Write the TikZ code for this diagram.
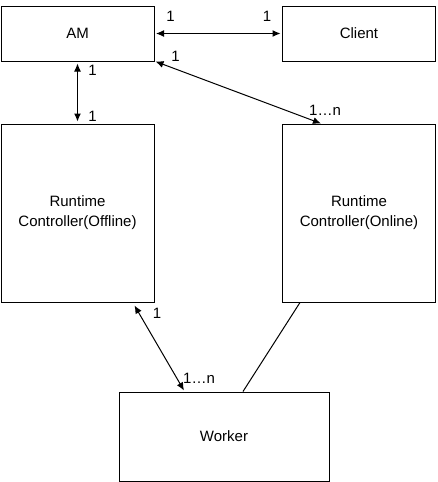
\documentclass[tikz,border=0pt]{standalone}
\usepackage{fontspec}
\setmainfont{Liberation Sans}
\usetikzlibrary{arrows.meta}
\tikzset{
    x=1pt, y=-1pt,
    every node/.style={font=\fontsize{15}{20}\selectfont},
    classbox/.style={draw, line width=1pt, align=center, inner sep=0pt},
    smallbox/.style={classbox, minimum width=153pt, minimum height=55pt},
    tallbox/.style={classbox, minimum width=153pt, minimum height=178pt},
    link/.style={line width=1pt, {Latex[length=8pt, width=7pt]}-{Latex[length=8pt, width=7pt]}},
}

\begin{document}
\begin{tikzpicture}
        \useasboundingbox (0, 0) rectangle (437, 482);
        \node[smallbox] (am) at (77.5, 33.5) {AM};
        \node[smallbox] (client) at (359, 33.5) {Client};
        \node[tallbox] (offline) at (77.5, 213) {Runtime\\Controller(Offline)};
        \node[tallbox] (online) at (359, 213) {Runtime\\Controller(Online)};
        \node[classbox, minimum width=210pt, minimum height=89pt] (worker)
            at (224, 436.5) {Worker};
        \draw[link] ([xshift=1.5pt]am.east) -- ([xshift=-1.5pt]client.west)
            node[pos=0, xshift=14.5pt, yshift=17.5pt] {1}
            node[pos=1, xshift=-13.5pt, yshift=17.5pt] {1};
        \draw[link] ([yshift=-2pt]am.south) -- ([yshift=2pt]offline.north)
            node[pos=0, xshift=15pt, yshift=-7pt] {1}
            node[pos=1, xshift=15pt, yshift=5pt] {1};
        \draw[link] ([xshift=1pt]am.south east) -- ([xshift=-38pt]online.north)
            node[pos=0, xshift=20pt, yshift=5pt] {1}
            node[pos=1, xshift=4pt, yshift=13pt] {1\ldots n};
        \draw[link] ([xshift=57pt, yshift=-3pt]offline.south)
            -- ([xshift=-40pt, yshift=1pt]worker.north)
            node[pos=0, xshift=22.5pt, yshift=-7.5pt] {1}
            node[pos=1, xshift=15pt, yshift=12.5pt] {1\ldots n};
        \draw[line width=1pt] ([xshift=-59pt]online.south)
            -- ([xshift=19pt]worker.north);
    \end{tikzpicture}
\end{document}
